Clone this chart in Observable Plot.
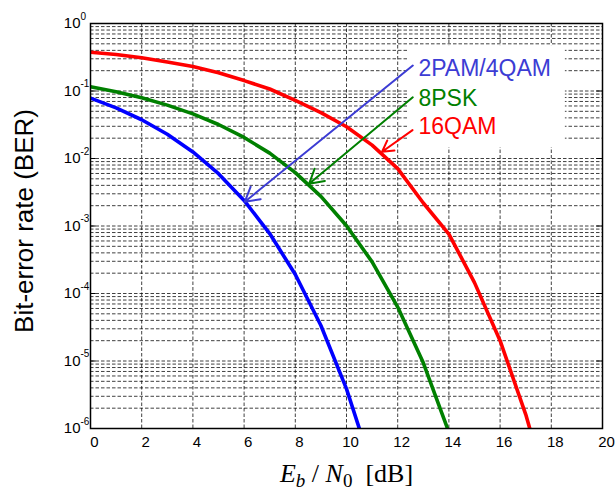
<!DOCTYPE html>
<html><head><meta charset="utf-8">
<script src="https://cdn.jsdelivr.net/npm/d3@7"></script>
<script src="https://cdn.jsdelivr.net/npm/@observablehq/plot@0.6"></script>
<style>html,body{margin:0;padding:0;background:#fff;}</style>
</head><body><div id="chart"></div>
<script>
// ---- data ----
const seriesNames = ["2PAM/4QAM", "8PSK", "16QAM"];
const ebn0 = [0, 1, 2, 3, 4, 5, 6, 7, 8, 9, 10, 11, 12, 13, 14, 15, 16, 17, 18];
const ber2pam = [7.86e-2, 5.63e-2, 3.75e-2, 2.29e-2, 1.25e-2, 5.95e-3, 2.39e-3, 7.73e-4, 1.91e-4, 3.36e-5, 3.87e-6, 2.6e-7];
const ber8psk = [0.116, 0.0976, 0.0793, 0.0618, 0.0458, 0.0319, 0.0205, 0.0120, 6.18e-3, 2.75e-3, 1.01e-3, 2.94e-4, 6.3e-5, 9.4e-6, 8.8e-7];
const ber16qam = [0.375, 0.347, 0.31, 0.269, 0.230, 0.186, 0.1426, 0.107, 0.0724, 0.0479, 0.0295, 0.0158, 7.08e-3, 2.19e-3, 7.6e-4, 1.45e-4, 2.0e-5, 1.62e-6, 7.9e-8];

const xTicks = [0, 2, 4, 6, 8, 10, 12, 14, 16, 18, 20];
const yMajor = [1, 1e-1, 1e-2, 1e-3, 1e-4, 1e-5, 1e-6];
const yExponents = ["0", "-1", "-2", "-3", "-4", "-5", "-6"];
const yMinorMult = [2, 3, 4, 5, 6, 7, 8, 9];

// annotation (label + arrow) positions, in data units
const labelX = [12.81, 12.81, 12.81];
const labelY = [0.164, 0.0596, 0.0227];
const arrowFromX = [12.59, 12.59, 12.58];
const arrowFromY = [0.238, 0.0807, 0.0263];
const arrowToX = [6.03, 8.54, 11.39];
const arrowToY = [2.29e-3, 4.23e-3, 0.0126];
const boxX = [12.42, 18.55];
const boxY = [0.47, 0.0145];

// ---- styles ----
const lineColors = ["#0000ff", "#008000", "#ff0000"];
const annColors = ["#3c3cd4", "#008000", "#ff0000"];

// ---- tables ----
const berSets = [ber2pam, ber8psk, ber16qam];
const rows = [];
berSets.forEach((arr, i) => arr.forEach((v, j) => rows.push({series: seriesNames[i], x: ebn0[j], ber: v})));
const yMinor = [];
yMajor.slice(1).forEach(m => yMinorMult.forEach(k => yMinor.push(m * k)));
const ann = seriesNames.map((s, i) => ({
  series: s, lx: labelX[i], ly: labelY[i],
  x1: arrowFromX[i], y1: arrowFromY[i], x2: arrowToX[i], y2: arrowToY[i], color: annColors[i]
}));
const yTickRows = yMajor.map((v, i) => ({v, e: yExponents[i]}));
const xLabel = "Eb / N0 [dB]";

const gridStyle = {stroke: "#000", strokeWidth: 0.75, strokeDasharray: "3.5,2", strokeOpacity: 1};

const chart = Plot.plot({
  width: 616, height: 492,
  marginLeft: 90, marginRight: 14, marginTop: 23, marginBottom: 64,
  style: {background: "#fff", fontFamily: "'Liberation Sans', Arial, sans-serif", overflow: "visible"},
  x: {domain: [0, 20], axis: null},
  y: {type: "log", domain: [1e-6, 1], axis: null},
  color: {domain: seriesNames, range: lineColors},
  marks: [
    Plot.ruleY(yMinor, gridStyle),
    Plot.ruleY(yMajor.slice(1, -1), gridStyle),
    Plot.ruleX(xTicks.slice(1, -1), gridStyle),
    // inward ticks
    Plot.ruleY(yMajor, {x1: 0, x2: 0.22, stroke: "#000", strokeWidth: 1}),
    Plot.ruleY(yMajor, {x1: 19.78, x2: 20, stroke: "#000", strokeWidth: 1}),
    Plot.line(rows, {x: "x", y: "ber", z: "series", stroke: "series", strokeWidth: 3.6, clip: true, strokeLinejoin: "round"}),
    Plot.frame({stroke: "#000", strokeWidth: 1.5}),
    // annotation box, labels, arrows
    Plot.rect([0], {x1: boxX[0], x2: boxX[1], y1: boxY[0], y2: boxY[1], fill: "#fff"}),
    Plot.arrow(ann, {x1: "x1", y1: "y1", x2: "x2", y2: "y2", stroke: "color", strokeWidth: 2, headLength: 12, bend: 0}),
    Plot.text(ann, {x: "lx", y: "ly", text: "series", fill: "color", textAnchor: "start", lineAnchor: "bottom", fontSize: 23}),
    // x tick labels
    Plot.text(xTicks, {x: d => d, y: 1e-6, text: d => String(d), dy: 18, dx: 4, lineAnchor: "bottom", fontSize: 15, fill: "#000"}),
    // y tick labels 10^k
    Plot.text(yTickRows, {x: 0, y: "v", text: () => "10", dx: -10, textAnchor: "end", lineAnchor: "middle", fontSize: 15, fill: "#000"}),
    Plot.text(yTickRows, {x: 0, y: "v", text: "e", dx: -10, dy: -7, textAnchor: "start", lineAnchor: "middle", fontSize: 10, fill: "#000"}),
    // axis titles
    Plot.text(["Bit-error rate (BER)"], {frameAnchor: "left", rotate: -90, dx: -66, dy: -5, textAnchor: "middle", lineAnchor: "middle", fontSize: 26, fill: "#000"}),
    Plot.text([xLabel], {frameAnchor: "bottom", dy: 53, textAnchor: "middle", lineAnchor: "bottom", fontSize: 26, fill: "#000", fontFamily: "'Liberation Serif', 'Times New Roman', serif"})
  ]
});

// rich formatting for the x-axis title (italics and subscripts)
d3.select(chart).selectAll("text").filter(function() { return this.textContent === xLabel; }).each(function() {
  const t = d3.select(this);
  t.text(null);
  t.append("tspan").attr("font-style", "italic").text("E");
  t.append("tspan").attr("font-style", "italic").attr("font-size", 19).attr("dy", 5).text("b");
  t.append("tspan").attr("dy", -5).text("\u00a0/\u00a0");
  t.append("tspan").attr("font-style", "italic").text("N");
  t.append("tspan").attr("font-size", 19).attr("dy", 5).text("0");
  t.append("tspan").attr("dy", -5).text("\u00a0\u00a0[dB]");
});

document.getElementById("chart").appendChild(chart);
</script>
</body></html>
